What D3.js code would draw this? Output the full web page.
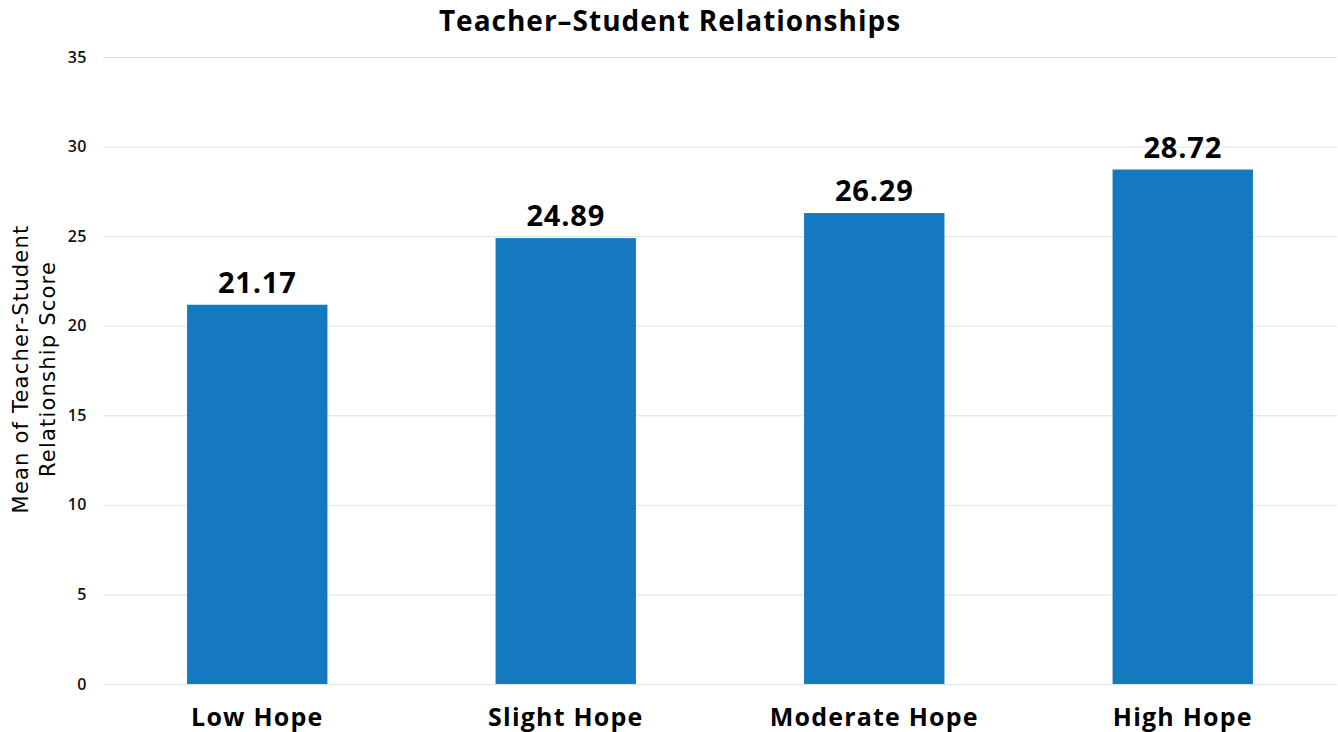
<!DOCTYPE html>
<html>
<head>
<meta charset="utf-8">
<script src="https://cdn.jsdelivr.net/npm/d3@7"></script>
<style>
  body { margin: 0; background: #fff; }
  svg { display: block; }
</style>
</head>
<body>
<div id="chart"></div>
<script>
// chart values
const categories = ["Low Hope", "Slight Hope", "Moderate Hope", "High Hope"];
const means = [21.17, 24.89, 26.29, 28.72];
const yTicks = [0, 5, 10, 15, 20, 25, 30, 35];

const width = 1338;
const height = 732;
const margin = { top: 57, right: 1, bottom: 48, left: 103 };
const boldFont = "'Open Sans', 'DejaVu Sans', sans-serif";

const svg = d3.select("#chart")
    .append("svg")
    .attr("width", width)
    .attr("height", height);

const x = d3.scaleBand()
    .domain(categories)
    .range([margin.left, width - margin.right])
    .paddingInner(0.545)
    .paddingOuter(0.2725);

const y = d3.scaleLinear()
    .domain([0, 35])
    .range([height - margin.bottom, margin.top]);

// gridlines + tick labels
const yAxis = d3.axisLeft(y)
    .tickValues(yTicks)
    .tickSize(-(width - margin.right - margin.left))
    .tickPadding(16);

const gy = svg.append("g")
    .attr("transform", `translate(${margin.left},0)`)
    .call(yAxis);
gy.select(".domain").remove();
gy.selectAll(".tick line").attr("stroke", "#e0e0e0").attr("stroke-width", 1);
gy.selectAll(".tick text")
    .attr("font-family", boldFont)
    .attr("font-weight", 600)
    .attr("font-size", "16px")
    .attr("letter-spacing", "0.5px")
    .attr("fill", "#111");

// bars
svg.append("g").selectAll("rect")
    .data(categories)
    .enter()
    .append("rect")
    .attr("x", d => x(d))
    .attr("width", x.bandwidth())
    .attr("y", (d, i) => y(means[i]))
    .attr("height", (d, i) => y(0) - y(means[i]))
    .attr("fill", "#1479bf");

// value labels
svg.append("g").selectAll("text")
    .data(categories)
    .enter()
    .append("text")
    .attr("x", d => x(d) + x.bandwidth() / 2)
    .attr("y", (d, i) => y(means[i]) - 12)
    .attr("text-anchor", "middle")
    .attr("font-family", boldFont)
    .attr("font-weight", 700)
    .attr("font-size", "29px")
    .attr("letter-spacing", "0.8px")
    .attr("fill", "#000")
    .text((d, i) => means[i].toFixed(2));

// category labels
const gx = svg.append("g")
    .attr("transform", `translate(0,${height - margin.bottom})`)
    .call(d3.axisBottom(x).tickSize(0).tickPadding(0));
gx.select(".domain").remove();
gx.selectAll(".tick text")
    .attr("dy", null)
    .attr("y", 42)
    .attr("font-family", boldFont)
    .attr("font-weight", 700)
    .attr("font-size", "25px")
    .attr("letter-spacing", "1.2px")
    .attr("fill", "#000");

// title
svg.append("text")
    .attr("x", 670)
    .attr("y", 31)
    .attr("text-anchor", "middle")
    .attr("font-family", boldFont)
    .attr("font-weight", 700)
    .attr("font-size", "28px")
    .attr("letter-spacing", "1px")
    .attr("fill", "#000")
    .text("Teacher–Student Relationships");

// y axis title (two lines)
const yTitle = svg.append("text")
    .attr("transform", "translate(0,369) rotate(-90)")
    .attr("text-anchor", "middle")
    .attr("font-family", "'DejaVu Sans', sans-serif")
    .attr("font-size", "21px")
    .attr("letter-spacing", "1.2px")
    .attr("fill", "#000");
yTitle.append("tspan").attr("x", 0).attr("y", 28).text("Mean of Teacher-Student");
yTitle.append("tspan").attr("x", 0).attr("y", 55).text("Relationship Score");
</script>
</body>
</html>
